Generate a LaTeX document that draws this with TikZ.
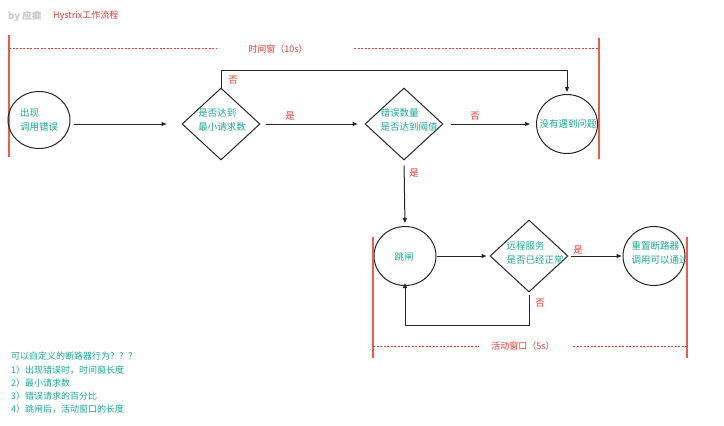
\documentclass[tikz,border=0pt]{standalone}
\usepackage{fontspec}
\setmainfont{Noto Sans CJK SC}
\usetikzlibrary{shapes.geometric,arrows.meta}
\definecolor{tealtxt}{RGB}{24,168,150}
\definecolor{redtxt}{RGB}{232,58,48}
\definecolor{winred}{RGB}{238,90,80}
\definecolor{graytxt}{RGB}{200,200,200}
\tikzset{
  oval/.style={ellipse,draw=black!85,line width=1pt,inner sep=0pt},
  dia/.style={diamond,draw=black!85,line width=1pt,inner sep=0pt,minimum width=78pt,minimum height=72pt},
  txt/.style={text=tealtxt,align=left,inner sep=0pt,font=\fontsize{9.5}{14}\selectfont},
  lab/.style={text=redtxt,inner sep=0pt,font=\fontsize{9.5}{12}\selectfont},
  arr/.style={draw=black!85,line width=1pt,-{Triangle[length=5pt,width=4pt]}},
  winline/.style={color=winred,line width=1.2pt},
  windash/.style={color=redtxt,line width=1pt,dash pattern=on 2pt off 1.5pt},
  note/.style={text=tealtxt,anchor=west,inner sep=0pt,font=\fontsize{9}{12}\selectfont}
}
\begin{document}
\begin{tikzpicture}[x=1pt,y=-1pt]
\useasboundingbox (0,0) rectangle (724,426);
% title
\node[anchor=west,inner sep=0pt,text=graytxt,font=\bfseries\fontsize{9.5}{11}\selectfont] (by) at (8,16) {by 应癫};
\node[anchor=west,inner sep=0pt,text=redtxt,font=\fontsize{9}{11}\selectfont] (title) at (53,16) {Hystrix工作流程};
% time window
\coordinate (wl1) at (9,35); \coordinate (wl2) at (9,157);
\coordinate (wr1) at (599,38); \coordinate (wr2) at (599,159);
\draw[winline] (wl1) -- (wl2);
\draw[winline] (wr1) -- (wr2);
\node[lab,font=\fontsize{9}{11}\selectfont] (tw) at (278,49) {时间窗（10s）};
\coordinate (twa) at (9,48.6); \coordinate (twb) at (216,48.6);
\coordinate (twc) at (354,48.6); \coordinate (twd) at (599,48.6);
\draw[windash] (twa) -- (twb);
\draw[windash] (twc) -- (twd);
% row 1
\node[oval,minimum width=62pt,minimum height=57pt] (c1) at (39,120) {};
\node[txt] (c1t) at (39,120) {出现\\调用错误};
\node[dia] (d1) at (221,124) {};
\node[txt] (d1t) at (222,120) {是否达到\\最小请求数};
\node[dia] (d2) at (404,124) {};
\node[txt] (d2t) at (409,120) {错误数量\\是否达到阈值};
\node[oval,minimum width=61pt,minimum height=59pt] (c3) at (567,124) {};
\node[txt] (c3t) at (568,124) {没有遇到问题};
% row 2
\node[oval,minimum width=62pt,minimum height=59pt] (c5) at (405,256) {};
\node[txt] (c5t) at (404,257) {跳闸};
\node[dia] (d3) at (529,256) {};
\node[txt] (d3t) at (535,253) {远程服务\\是否已经正常};
\node[oval,minimum width=62pt,minimum height=59pt] (c4) at (654,256) {};
\node[txt] (c4t) at (660,253) {重置断路器\\调用可以通过};
% connectors
\draw[arr,shorten <=3pt,shorten >=15pt] (c1.east |- d1.west) -- (d1.west);
\draw[arr,shorten <=5pt,shorten >=7pt] (d1) -- (d2);
\draw[arr,shorten <=7pt,shorten >=6pt] (d2) -- (c3);
\coordinate (t1) at (221,70);
\draw[arr,shorten >=2pt] (d1.north) -- (t1) -| (c3.north);
\draw[arr,shorten <=5pt,shorten >=3pt] (d2.south) -- (c5.north);
\draw[arr,shorten >=3pt] (c5) -- (d3);
\draw[arr,shorten <=2pt,shorten >=1pt] (d3) -- (c4);
\coordinate (t2) at (529,325);
\draw[arr,shorten <=2pt,shorten >=-3pt] (d3.south) -- (t2) -| (c5.south);
% labels
\node[lab] (l1) at (233,80) {否};
\node[lab] (l2) at (290,116) {是};
\node[lab] (l3) at (475,116) {否};
\node[lab] (l4) at (414,173) {是};
\node[lab] (l5) at (578,250) {是};
\node[lab] (l6) at (540,303) {否};
% active window
\coordinate (al1) at (373,237); \coordinate (al2) at (373,358);
\coordinate (ar1) at (687,237); \coordinate (ar2) at (687,358);
\draw[winline] (al1) -- (al2);
\draw[winline] (ar1) -- (ar2);
\node[lab,font=\fontsize{9}{11}\selectfont] (aw) at (523,346) {活动窗口（5s）};
\coordinate (awa) at (373,346); \coordinate (awb) at (479,346);
\coordinate (awc) at (573,346); \coordinate (awd) at (687,346);
\draw[windash] (awa) -- (awb);
\draw[windash] (awc) -- (awd);
% notes
\node[note] (n0) at (11,356) {可以自定义的断路器行为？？？};
\node[note] (n1) at (11,370) {1）出现错误时，时间窗长度};
\node[note] (n2) at (11,383) {2）最小请求数};
\node[note] (n3) at (11,396) {3）错误请求的百分比};
\node[note] (n4) at (11,409) {4）跳闸后，活动窗口的长度};
\end{tikzpicture}
\end{document}
